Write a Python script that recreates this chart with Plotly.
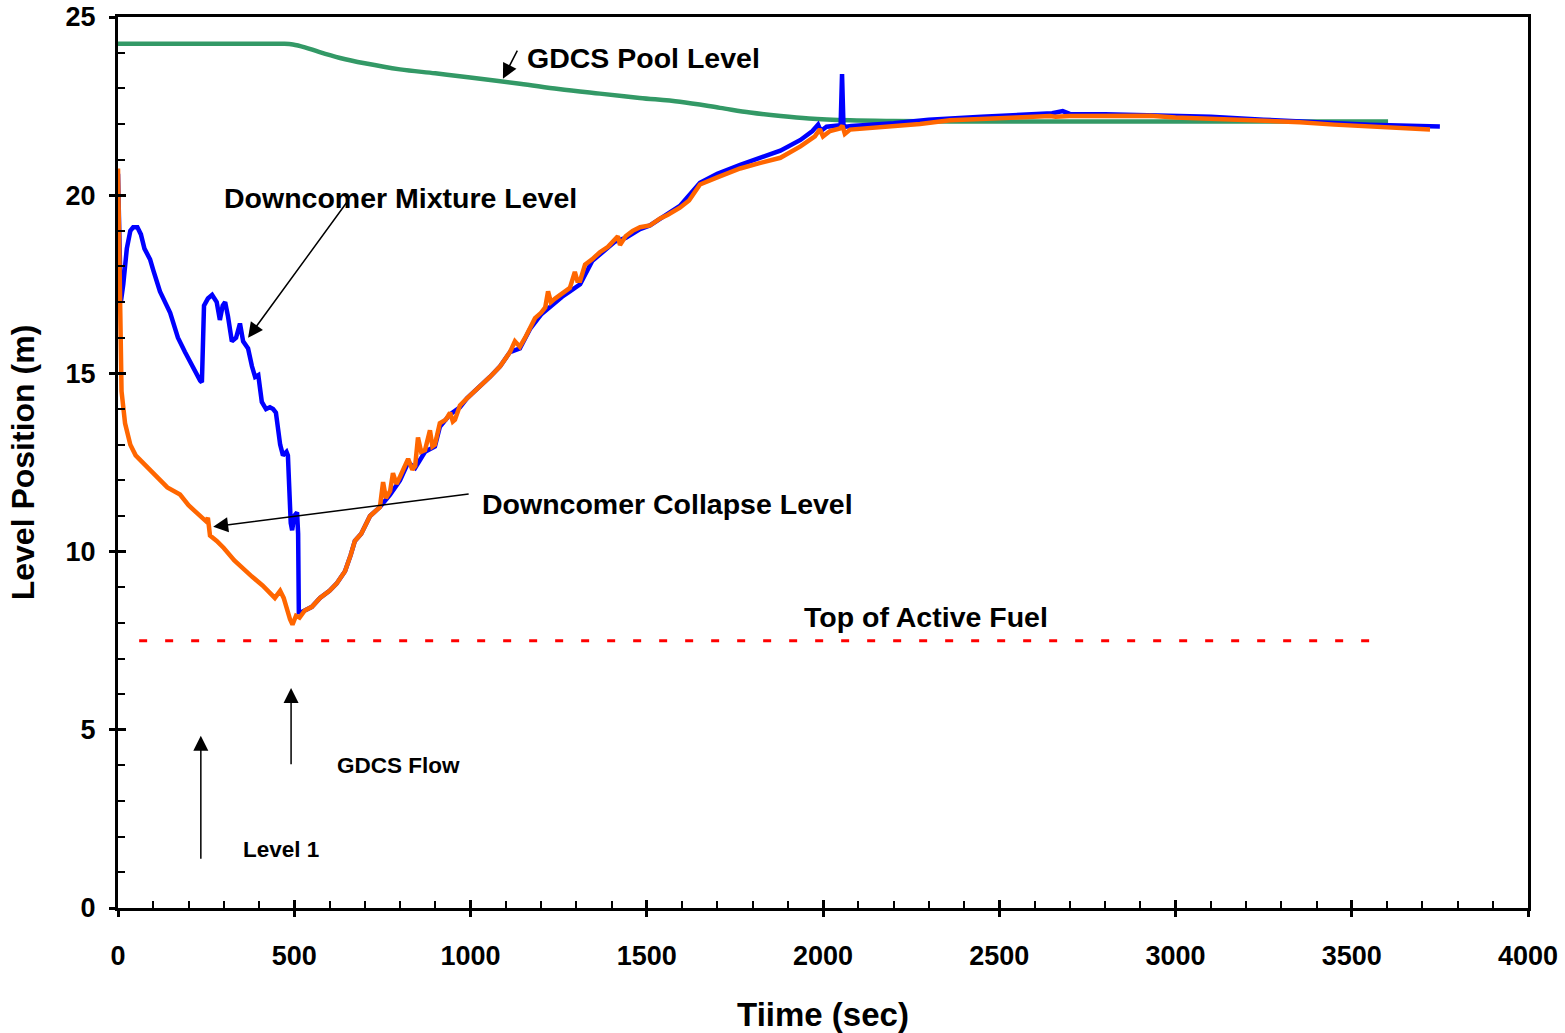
import plotly.graph_objects as go

# ---------------- data ----------------
pool_t = [0, 100, 200, 300, 400, 470, 496, 530, 570, 630, 700, 800, 900, 999, 1140, 1250, 1367, 1480, 1594, 1708, 1793, 1880, 1960, 2077, 2200, 2360, 2600, 3000, 3400, 3603]
pool_lv = [24.25, 24.25, 24.25, 24.25, 24.25, 24.25, 24.23, 24.15, 24.02, 23.85, 23.7, 23.53, 23.42, 23.3, 23.13, 22.98, 22.85, 22.73, 22.62, 22.45, 22.32, 22.22, 22.15, 22.1, 22.08, 22.07, 22.07, 22.07, 22.07, 22.07]

collapse_t = [0, 3, 6, 10, 20, 35, 50, 70, 91, 110, 140, 176, 200, 233, 250, 255, 261, 280, 300, 330, 346, 380, 410, 431, 445, 460, 470, 488, 495, 505, 515, 530, 550, 573, 600, 620, 644, 660, 672, 690, 715, 743, 752, 760, 772, 780, 790, 800, 823, 835, 843, 851, 860, 871, 885, 892, 899, 913, 930, 942, 950, 956, 970, 990, 1013, 1035, 1055, 1084, 1100, 1112, 1126, 1140, 1155, 1169, 1183, 1200, 1212, 1220, 1228, 1240, 1260, 1282, 1296, 1303, 1311, 1325, 1345, 1367, 1390, 1410, 1418, 1424, 1440, 1460, 1481, 1509, 1538, 1560, 1594, 1620, 1651, 1700, 1765, 1820, 1879, 1936, 1977, 1991, 2000, 2020, 2048, 2055, 2062, 2077, 2130, 2190, 2275, 2360, 2450, 2550, 2644, 2660, 2700, 2800, 2928, 3000, 3100, 3200, 3353, 3450, 3550, 3722]
collapse_lv = [20.75, 18.5, 16.0, 14.5, 13.6, 13.0, 12.7, 12.5, 12.3, 12.1, 11.8, 11.6, 11.3, 11.0, 10.85, 10.95, 10.45, 10.3, 10.1, 9.75, 9.6, 9.3, 9.05, 8.85, 8.7, 8.9, 8.7, 8.1, 7.95, 8.2, 8.15, 8.35, 8.45, 8.7, 8.9, 9.1, 9.45, 9.9, 10.3, 10.5, 11.0, 11.25, 11.95, 11.5, 11.7, 12.2, 11.9, 12.1, 12.6, 12.3, 12.4, 13.2, 12.8, 12.85, 13.4, 12.95, 13.0, 13.6, 13.7, 13.9, 13.65, 13.7, 14.1, 14.3, 14.5, 14.7, 14.9, 15.2, 15.45, 15.6, 15.9, 15.75, 16.0, 16.3, 16.55, 16.7, 16.85, 17.3, 17.0, 17.1, 17.25, 17.4, 17.85, 17.6, 17.6, 18.05, 18.2, 18.4, 18.55, 18.75, 18.85, 18.6, 18.85, 19.0, 19.1, 19.15, 19.35, 19.45, 19.65, 19.85, 20.3, 20.5, 20.75, 20.9, 21.05, 21.37, 21.65, 21.85, 21.65, 21.8, 21.87, 21.95, 21.72, 21.84, 21.88, 21.93, 22.0, 22.1, 22.15, 22.18, 22.22, 22.2, 22.22, 22.22, 22.23, 22.18, 22.15, 22.12, 22.05, 21.98, 21.92, 21.84]

mixture_t = [0, 3, 8, 15, 25, 35, 43, 55, 65, 75, 91, 100, 119, 148, 170, 190, 210, 233, 238, 244, 255, 267, 280, 289, 297, 304, 312, 323, 335, 346, 355, 369, 380, 389, 398, 408, 420, 431, 440, 448, 460, 468, 478, 482, 490, 494, 500, 508, 511, 513, 520, 530, 550, 573, 600, 620, 644, 660, 672, 690, 715, 743, 772, 800, 823, 843, 871, 899, 913, 942, 970, 990, 1013, 1055, 1084, 1112, 1140, 1169, 1200, 1240, 1260, 1282, 1311, 1345, 1367, 1410, 1440, 1481, 1509, 1538, 1594, 1651, 1700, 1765, 1820, 1879, 1936, 1970, 1986, 1994, 2010, 2040, 2050, 2054, 2058, 2065, 2080, 2200, 2300, 2450, 2600, 2650, 2680, 2700, 2800, 2950, 3100, 3250, 3400, 3550, 3750]
mixture_lv = [20.6, 19.5, 17.0, 17.5, 18.5, 19.0, 19.1, 19.1, 18.9, 18.5, 18.2, 17.9, 17.3, 16.7, 16.0, 15.6, 15.2, 14.8, 14.75, 16.9, 17.1, 17.2, 17.0, 16.5, 16.9, 17.0, 16.6, 15.9, 16.0, 16.4, 15.9, 15.7, 15.2, 14.9, 14.95, 14.2, 14.0, 14.05, 14.0, 13.9, 13.0, 12.7, 12.8, 12.7, 10.8, 10.6, 11.0, 11.1, 10.5, 8.3, 8.3, 8.35, 8.45, 8.7, 8.9, 9.1, 9.45, 9.9, 10.3, 10.5, 11.0, 11.25, 11.6, 12.0, 12.5, 12.35, 12.8, 12.95, 13.5, 13.85, 14.05, 14.3, 14.5, 14.9, 15.2, 15.6, 15.7, 16.25, 16.65, 17.0, 17.15, 17.3, 17.5, 18.15, 18.35, 18.7, 18.8, 19.05, 19.15, 19.35, 19.7, 20.35, 20.6, 20.85, 21.05, 21.25, 21.55, 21.8, 21.98, 21.8, 21.92, 21.96, 21.96, 23.4, 21.97, 21.92, 21.94, 22.02, 22.12, 22.2, 22.28, 22.3, 22.36, 22.28, 22.27, 22.25, 22.2, 22.12, 22.05, 21.98, 21.93]

taf_t = [60, 3590]
taf_lv = [7.5, 7.5]

x_ticks = [0, 500, 1000, 1500, 2000, 2500, 3000, 3500, 4000]
y_ticks = [0, 5, 10, 15, 20, 25]

FONT = "Arial, Liberation Sans, sans-serif"

fig = go.Figure()
fig.add_trace(go.Scatter(x=taf_t, y=taf_lv, mode="lines",
                         line=dict(color="#FF0000", width=3, dash="8px,18px"), showlegend=False))
fig.add_trace(go.Scatter(x=pool_t, y=pool_lv, mode="lines", line_shape="spline",
                         line=dict(color="#339966", width=4.5), showlegend=False))
fig.add_trace(go.Scatter(x=mixture_t, y=mixture_lv, mode="lines",
                         line=dict(color="#0000FF", width=4.5), showlegend=False))
fig.add_trace(go.Scatter(x=collapse_t, y=collapse_lv, mode="lines",
                         line=dict(color="#FF6600", width=4.5), showlegend=False))
# dummy trace to carry the overlay axes (outer half of major ticks)
fig.add_trace(go.Scatter(x=[None], y=[None], xaxis="x2", yaxis="y2", showlegend=False))

tickfont = dict(family=FONT, size=27, color="black", weight="bold")

fig.update_layout(
    width=1565, height=1033,
    margin=dict(l=118, r=37, t=17, b=125),
    paper_bgcolor="white", plot_bgcolor="white",
    font=dict(family=FONT, color="black"),
    xaxis=dict(range=[0, 4000], tickvals=x_ticks, ticks="inside", ticklen=8, tickwidth=3,
               tickcolor="black", showline=True, linecolor="black", linewidth=3, mirror=True,
               showgrid=False, zeroline=False, tickfont=tickfont, ticklabelstandoff=22,
               automargin=False, ticklabeloverflow="allow",
               minor=dict(dtick=100, ticks="inside", ticklen=7, tickwidth=2, tickcolor="black", showgrid=False),
               title=dict(text="Tiime (sec)", font=dict(family=FONT, size=33, color="black", weight="bold"),
                          standoff=34)),
    yaxis=dict(range=[0, 25], tickvals=y_ticks, ticks="inside", ticklen=8, tickwidth=3,
               tickcolor="black", showline=True, linecolor="black", linewidth=3, mirror=True,
               showgrid=False, zeroline=False, tickfont=tickfont, ticklabelstandoff=14,
               automargin=False, ticklabeloverflow="allow",
               minor=dict(dtick=1, ticks="inside", ticklen=7, tickwidth=2, tickcolor="black", showgrid=False),
               title=dict(text="Level Position (m)", font=dict(family=FONT, size=32, color="black", weight="bold"),
                          standoff=22)),
    xaxis2=dict(overlaying="x", anchor="y2", range=[0, 4000], tickvals=x_ticks, ticks="outside",
                ticklen=8, tickwidth=3, tickcolor="black", showticklabels=False, showline=False,
                showgrid=False, zeroline=False, automargin=False),
    yaxis2=dict(overlaying="y", anchor="x2", range=[0, 25], tickvals=y_ticks, ticks="outside",
                ticklen=8, tickwidth=3, tickcolor="black", showticklabels=False, showline=False,
                showgrid=False, zeroline=False, automargin=False),
)

big = dict(family=FONT, size=28.5, color="black", weight="bold")
small = dict(family=FONT, size=22.5, color="black", weight="bold")

texts = [
    ("GDCS Pool Level", 1155, 23.85, big),
    ("Downcomer Mixture Level", 295, 19.92, big),
    ("Downcomer Collapse Level", 1027, 11.34, big),
    ("Top of Active Fuel", 1940, 8.16, big),
    ("GDCS Flow", 616, 3.99, small),
    ("Level 1", 349, 1.65, small),
]
for txt, tx, ty, f in texts:
    fig.add_annotation(x=tx, y=ty, text=txt, showarrow=False, xanchor="left", yanchor="middle", font=f)

arrows = [  # head x, head y, tail x, tail y
    (1092, 23.27, 1135, 24.1),
    (369, 16.0, 658, 19.92),
    (270, 10.7, 999, 11.62),
    (491, 6.17, 491, 3.99),
    (235, 4.83, 235, 1.34),
]
for hx, hy, tx, ty in arrows:
    fig.add_annotation(x=hx, y=hy, ax=tx, ay=ty, xref="x", yref="y", axref="x", ayref="y",
                       text="", showarrow=True, arrowhead=2, arrowsize=2, arrowwidth=1.5,
                       arrowcolor="black")

fig.write_html("out.html")
